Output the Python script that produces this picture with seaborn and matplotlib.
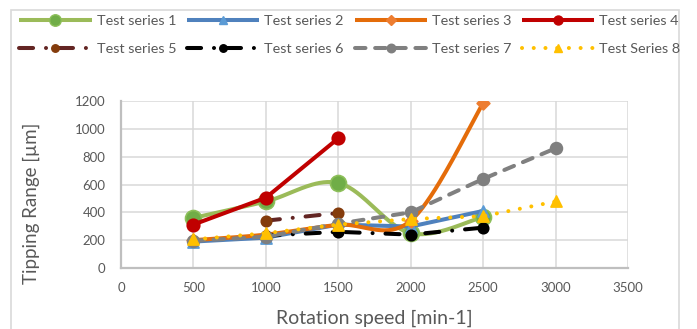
import numpy as np
import pandas as pd
import matplotlib
matplotlib.use("Agg")
import matplotlib.pyplot as plt
from matplotlib.lines import Line2D
from matplotlib.patches import Rectangle
import seaborn as sns

# ---------------- data ----------------
s1_x = [500, 1000, 1500, 2000, 2500]
s1_y = [360, 478, 611, 250, 368]
s2_x = [500, 1000, 1500, 2000, 2500]
s2_y = [190, 218, 312, 298, 410]
s3_x = [500, 1000, 1500, 2000, 2500]
s3_y = [200, 240, 310, 340, 1185]
s4_x = [500, 1000, 1500]
s4_y = [312, 505, 932]
s5_x = [1000, 1500]
s5_y = [340, 395]
s6_x = [1000, 1500, 2000, 2500]
s6_y = [232, 260, 240, 290]
s7_x = [500, 1000, 1500, 2000, 2500, 3000]
s7_y = [195, 225, 318, 400, 640, 860]
s8_x = [500, 1000, 1500, 2000, 2500, 3000]
s8_y = [205, 250, 312, 352, 372, 478]

labels = ["Test series 1", "Test series 2", "Test series 3", "Test series 4",
          "Test series 5", "Test series 6", "Test series 7", "Test Series 8"]
x_ticks = [0, 500, 1000, 1500, 2000, 2500, 3000, 3500]
y_ticks = [0, 200, 400, 600, 800, 1000, 1200]
x_label = "Rotation speed [min-1]"
y_label = "Tipping Range [µm]"


def smooth(xs, ys, n=40):
    """Catmull-Rom rendering of a smoothed line through the data points."""
    P = np.column_stack([xs, ys]).astype(float)
    out = []
    m = len(P)
    for i in range(m - 1):
        p0 = P[i - 1] if i > 0 else P[i]
        p1 = P[i]
        p2 = P[i + 1]
        p3 = P[i + 2] if i + 2 < m else P[i + 1]
        t = np.linspace(0, 1, n)[:, None]
        pts = 0.5 * ((2 * p1) + (-p0 + p2) * t + (2 * p0 - 5 * p1 + 4 * p2 - p3) * t ** 2
                     + (-p0 + 3 * p1 - 3 * p2 + p3) * t ** 3)
        out.append(pts if i == 0 else pts[1:])
    a = np.vstack(out)
    return a[:, 0], a[:, 1]


sns.set_theme(style="white")
plt.rcParams["font.family"] = ["Lato", "DejaVu Sans"]
txt = "#595959"

fig = plt.figure(figsize=(6.97, 3.29), dpi=100)
ax = fig.add_axes([121 / 697, 1 - 268 / 329, (628 - 121) / 697, (268 - 101) / 329])

LW = 2.9
dashdot = (0, (3.5, 3.2, 0.01, 3.2))
series = [
    # x, y, line color, marker, mfc, mec, ms, linestyle, smooth
    (s1_x, s1_y, "#9BBB59", "o", "#70AD47", "#8DBF5A", 11.5, "-", True),
    (s2_x, s2_y, "#4F81BD", "^", "#5B9BD5", "#5B9BD5", 8, "-", False),
    (s3_x, s3_y, "#E46C0A", "D", "#ED7D31", "#ED7D31", 6.5, "-", True),
    (s4_x, s4_y, "#C00000", "o", "#C00000", "#C00000", 9, "-", False),
    (s5_x, s5_y, "#632523", "o", "#843C0C", "#843C0C", 7.5, dashdot, False),
    (s6_x, s6_y, "#000000", "o", "#000000", "#000000", 7.5, dashdot, False),
    (s7_x, s7_y, "#808080", "o", "#7F7F7F", "#7F7F7F", 8.5, (0, (2.6, 2.4)), False),
    (s8_x, s8_y, "#FFC000", "^", "#FFC000", "#FFC000", 8, (0, (0.01, 2.9)), False),
]

handles = []
for i, (xs, ys, col, mk, mfc, mec, ms, ls, sm) in enumerate(series):
    z = 3 + i
    if sm:
        lx, ly = smooth(xs, ys)
    else:
        lx, ly = np.asarray(xs, float), np.asarray(ys, float)
    sns.lineplot(x=lx, y=ly, ax=ax, color=col, lw=LW, sort=False, zorder=z,
                 estimator=None)
    line = ax.lines[-1]
    line.set_linestyle(ls)
    line.set_dash_capstyle("round")
    line.set_solid_capstyle("round")
    sns.scatterplot(x=xs, y=ys, ax=ax, marker=mk, s=ms ** 2, color=mfc,
                    edgecolor=mec, linewidth=1.2, zorder=z + 0.5)
    h = Line2D([0], [0], color=col, lw=LW, linestyle=ls, marker=mk,
               markersize=ms * 0.72, markerfacecolor=mfc, markeredgecolor=mec,
               dash_capstyle="round", solid_capstyle="butt")
    handles.append(h)

ax.set_xlim(0, 3500)
ax.set_ylim(0, 1200)
ax.set_xticks(x_ticks)
ax.set_yticks(y_ticks)
ax.grid(True, color="#D9D9D9", lw=1.1)
ax.set_axisbelow(True)
for s in ["top", "right"]:
    ax.spines[s].set_visible(False)
for s in ["left", "bottom"]:
    ax.spines[s].set_color("#BFBFBF")
    ax.spines[s].set_linewidth(1.6)
    ax.spines[s].set_zorder(2.5)
ax.tick_params(axis="both", length=0, labelsize=9.5, colors=txt)
ax.tick_params(axis="y", pad=11)
ax.tick_params(axis="x", pad=10)
ax.set_xlabel("")
ax.set_ylabel("")
fig.text(374.5 / 697, 1 - 318 / 329, x_label, fontsize=14, color=txt,
         ha="center", va="center")
fig.text(31 / 697, 1 - 203 / 329, y_label, fontsize=13.5, color=txt,
         ha="center", va="center", rotation=90)

order = [0, 4, 1, 5, 2, 6, 3, 7]
fig.legend([handles[k] for k in order], [labels[k] for k in order], ncol=4,
           loc="upper center", bbox_to_anchor=(350 / 697, 1 - 12 / 329),
           frameon=False, fontsize=10.4, handlelength=5.0, handletextpad=0.35,
           columnspacing=0.75, labelspacing=1.12, labelcolor=txt, numpoints=1,
           borderaxespad=0, borderpad=0.2)

fig.patches.append(Rectangle((11 / 697, -0.1), (679 - 11) / 697, 1.1 - 10 / 329,
                             transform=fig.transFigure, fill=False,
                             edgecolor="#D9D9D9", lw=1.2, zorder=0))

fig.savefig("out.png", dpi=100)
